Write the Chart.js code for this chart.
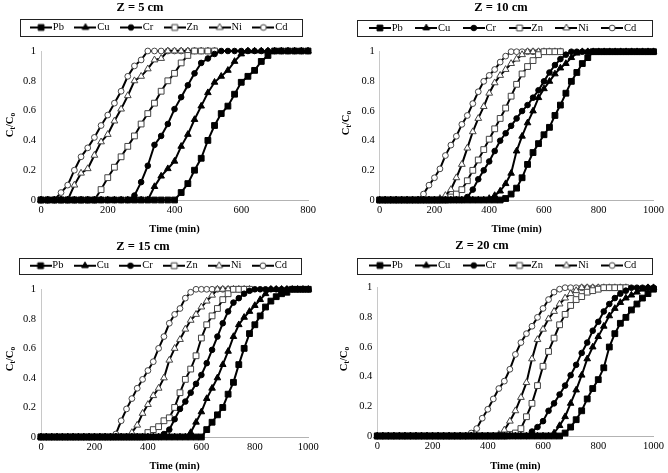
<!DOCTYPE html>
<html><head><meta charset="utf-8">
<script src="https://cdn.jsdelivr.net/npm/chart.js@4.4.1/dist/chart.umd.min.js"></script>
<style>html,body{margin:0;padding:0;background:#fff;width:668px;height:473px;overflow:hidden}canvas{position:absolute}</style>
</head><body>
<canvas id="c1" width="334" height="236" style="left:0;top:0;width:334px;height:236px"></canvas>
<canvas id="c2" width="334" height="236" style="left:334px;top:0;width:334px;height:236px"></canvas>
<canvas id="c3" width="334" height="237" style="left:0;top:236px;width:334px;height:237px"></canvas>
<canvas id="c4" width="334" height="237" style="left:334px;top:236px;width:334px;height:237px"></canvas>
<script>
// ---------- DATA ----------
const seriesNames = ['Pb','Cu','Cr','Zn','Ni','Cd'];
const panelTitles = ['Z = 5 cm','Z = 10 cm','Z = 15 cm','Z = 20 cm'];
const yTicks = [0,0.2,0.4,0.6,0.8,1];
const xTicks5 = [0,200,400,600,800];
const xTicksLong = [0,200,400,600,800,1000];
const tShort = [0,20,40,60,80,100,120,140,160,180,200,220,240,260,280,300,320,340,360,380,400,420,440,460,480,500,520,540,560,580,600,620,640,660,680,700,720,740,760,780,800];
const tLong = [0,20,40,60,80,100,120,140,160,180,200,220,240,260,280,300,320,340,360,380,400,420,440,460,480,500,520,540,560,580,600,620,640,660,680,700,720,740,760,780,800,820,840,860,880,900,920,940,960,980,1000];

// Z = 5 cm
const pb5 = [0,0,0,0,0,0,0,0,0,0, 0,0,0,0,0,0,0,0,0,0, 0, 0.05,0.11,0.2,0.28,0.4,0.5,0.58,0.63,0.71,0.79,0.83,0.87,0.93,0.97, 1,1,1,1,1,1];
const cu5 = [0,0,0,0,0,0,0,0,0,0, 0,0,0,0,0,0,0, 0.09,0.16,0.21,0.26,0.36,0.44,0.54,0.63,0.72,0.79,0.83,0.87,0.93,0.98, 1,1,1,1,1,1,1,1,1,1];
const cr5 = [0,0,0,0,0,0,0,0,0,0, 0,0,0,0, 0.03,0.12,0.23,0.37,0.43,0.51,0.61,0.69,0.77,0.85,0.92,0.95,0.98, 1,1,1,1,1,1,1,1,1,1, 1,1,1,1];
const zn5 = [0,0,0,0,0,0,0,0,0, 0.07,0.15,0.22,0.29,0.36,0.43,0.51,0.58,0.65,0.73,0.8,0.85,0.92,0.97, 1,1,1,1, null,null,null,null,null,null,null,null,null,null,null,null,null,null];
const ni5 = [0,0,0,0,0, 0.1,0.18,0.21,0.3,0.39,0.44,0.53,0.61,0.7,0.8,0.83,0.88,0.94,0.95, 1,1,1,1,1,1,1,1, null,null,null,null,null,null,null,null,null,null,null,null,null,null];
const cd5 = [0,0,0, 0.05,0.1,0.2,0.29,0.35,0.42,0.5,0.57,0.65,0.73,0.83,0.9,0.94, 1,1,1,1,1,1,1,1,1,1,1, null,null,null,null,null,null,null,null,null,null,null,null,null,null];

// Z = 10 cm
const pb10 = [0,0,0,0,0,0,0,0,0,0, 0,0,0,0,0,0,0,0,0,0, 0,0,0, 0.01,0.04,0.08,0.15,0.24,0.32,0.38,0.44,0.49,0.57,0.64,0.72,0.8,0.86,0.92,0.96, 1,1,1,1,1,1,1,1,1,1,1,1];
const cu10 = [0,0,0,0,0,0,0,0,0,0, 0,0,0,0,0,0,0,0,0,0, 0.01,0.03,0.06,0.11,0.18,0.33,0.43,0.52,0.6,0.69,0.75,0.8,0.85,0.89,0.92,0.96,0.99, 1,1,1,1,1,1,1,1,1,1,1,1,1,1];
const cr10 = [0,0,0,0,0,0,0,0,0,0, 0,0,0,0,0,0, 0.02,0.07,0.14,0.2,0.26,0.33,0.4,0.45,0.5,0.55,0.6,0.64,0.69,0.74,0.8,0.86,0.91,0.95,0.98, 1,1,1,1,1,1,1,1,1,1,1,1,1,1,1,1];
const zn10 = [0,0,0,0,0,0,0,0,0,0, 0,0,0, 0.02,0.04,0.07,0.13,0.2,0.27,0.34,0.41,0.48,0.55,0.62,0.7,0.78,0.85,0.9,0.94,0.98, 1,1,1,1, null,null,null,null,null,null,null,null,null,null,null,null,null,null,null,null,null];
const ni10 = [0,0,0,0,0,0,0,0,0,0, 0, 0.01,0.03,0.07,0.15,0.24,0.35,0.46,0.55,0.63,0.72,0.79,0.84,0.88,0.92,0.95,0.98, 1,1,1,1,1,1,1, null,null,null,null,null,null,null,null,null,null,null,null,null,null,null,null,null];
const cd10 = [0,0,0,0,0,0,0,0, 0.04,0.1,0.15,0.21,0.3,0.37,0.43,0.51,0.57,0.65,0.73,0.8,0.84,0.88,0.93,0.97, 1,1,1,1,1,1,1,1,1,1, null,null,null,null,null,null,null,null,null,null,null,null,null,null,null,null,null];

// Z = 15 cm
const pb15 = [0,0,0,0,0,0,0,0,0,0, 0,0,0,0,0,0,0,0,0,0, 0,0,0,0,0,0,0,0,0,0, 0, 0.05,0.1,0.15,0.2,0.29,0.37,0.49,0.6,0.7,0.76,0.82,0.88,0.92,0.95,0.97,0.98, 1,1,1,1];
const cu15 = [0,0,0,0,0,0,0,0,0,0, 0,0,0,0,0,0,0,0,0,0, 0,0,0,0,0,0,0,0, 0.03,0.1,0.17,0.26,0.33,0.4,0.49,0.58,0.68,0.76,0.81,0.85,0.89,0.93,0.97, 1,1,1,1,1,1,1,1];
const cr15 = [0,0,0,0,0,0,0,0,0,0, 0,0,0,0,0,0,0,0,0,0, 0,0,0, 0.02,0.05,0.12,0.19,0.24,0.3,0.36,0.42,0.5,0.59,0.68,0.77,0.85,0.91,0.94,0.97,0.99, 1,1,1,1,1,1,1,1,1,1,1];
const zn15 = [0,0,0,0,0,0,0,0,0,0, 0,0,0,0,0,0,0,0,0,0, 0.03,0.05,0.07,0.11,0.13,0.2,0.3,0.39,0.46,0.55,0.67,0.76,0.82,0.87,0.93,0.97, 1,1,1,1, null,null,null,null,null,null,null,null,null,null,null];
const ni15 = [0,0,0,0,0,0,0,0,0,0, 0,0,0,0,0,0,0, 0.03,0.08,0.16,0.22,0.28,0.33,0.4,0.52,0.6,0.66,0.73,0.79,0.83,0.88,0.92,0.96, 1,1,1,1,1,1,1, null,null,null,null,null,null,null,null,null,null,null];
const cd15 = [0,0,0,0,0,0,0,0,0,0, 0,0,0,0, 0.02,0.11,0.19,0.26,0.33,0.39,0.45,0.51,0.6,0.68,0.77,0.83,0.87,0.94,0.98, 1,1,1,1,1,1,1,1,1,1,1, null,null,null,null,null,null,null,null,null,null,null];

// Z = 20 cm
const pb20 = [0,0,0,0,0,0,0,0,0,0, 0,0,0,0,0,0,0,0,0,0, 0,0,0,0,0,0,0,0,0,0, 0,0,0,0, 0.02,0.06,0.11,0.17,0.25,0.32,0.38,0.46,0.6,0.69,0.76,0.8,0.85,0.89,0.93,0.96,0.99];
const cu20 = [0,0,0,0,0,0,0,0,0,0, 0,0,0,0,0,0,0,0,0,0, 0,0,0,0,0,0,0,0,0,0, 0,0, 0.02,0.07,0.13,0.22,0.31,0.41,0.52,0.6,0.67,0.74,0.81,0.86,0.9,0.93,0.95,0.97,0.99, 1,1];
const cr20 = [0,0,0,0,0,0,0,0,0,0, 0,0,0,0,0,0,0,0,0,0, 0,0,0,0,0,0,0,0, 0.03,0.06,0.1,0.17,0.22,0.28,0.34,0.41,0.48,0.56,0.63,0.71,0.77,0.84,0.89,0.93,0.96,0.98, 1,1,1,1,1];
const zn20 = [0,0,0,0,0,0,0,0,0,0, 0,0,0,0,0,0,0,0,0,0, 0,0,0,0, 0.01,0.02,0.05,0.13,0.22,0.34,0.47,0.57,0.66,0.75,0.82,0.88,0.92,0.94,0.97,0.98,0.99, 1,1,1,1,1, null,null,null,null,null];
const ni20 = [0,0,0,0,0,0,0,0,0,0, 0,0,0,0,0,0,0,0,0,0, 0,0, 0.01,0.04,0.1,0.17,0.26,0.36,0.52,0.65,0.72,0.79,0.84,0.89,0.93,0.96,0.98, 1,1,1,1,1,1,1,1,1, null,null,null,null,null];
const cd20 = [0,0,0,0,0,0,0,0,0,0, 0,0,0,0,0,0,0, 0.02,0.05,0.12,0.18,0.25,0.32,0.37,0.45,0.55,0.63,0.69,0.74,0.8,0.86,0.92,0.97,0.99, 1,1,1,1,1,1,1,1,1,1,1,1, null,null,null,null,null];

// ---------- STYLE / LAYOUT ----------
const SERIF = "'Liberation Serif','Times New Roman',serif";
const TITLE_SIZE = 12.5, LEG_FS = 10.5, TICK_FS = 10.5;
const markerStyles = [
  {ps:'rect', r:4.1, fill:'#000', edge:'#000'},
  {ps:'triangle', r:3.8, fill:'#000', edge:'#000'},
  {ps:'circle', r:2.8, fill:'#000', edge:'#000'},
  {ps:'rect', r:4.1, fill:'#fff', edge:'#444'},
  {ps:'triangle', r:3.9, fill:'#fff', edge:'#444'},
  {ps:'circle', r:2.9, fill:'#fff', edge:'#444'}
];

const panels = [
  {id:'c1', time:tShort, series:[pb5,cu5,cr5,zn5,ni5,cd5], xMax:800, xTicks:xTicks5,
   left:41, padR:26, padT:3, legPad:15, axisH:36, xtPad:0.2, titleXY:[140,7.5], legXY:[161,27.5], box:[20,19,282,17], yTitleXY:[9,125]},
  {id:'c2', time:tLong, series:[pb10,cu10,cr10,zn10,ni10,cd10], xMax:1000, xTicks:xTicksLong,
   left:45.7, padR:10.5, padT:1.7, legPad:17, axisH:36, xtPad:0.7, titleXY:[167,7.5], legXY:[170.8,28], box:[23.3,20,295,16], yTitleXY:[11,123]},
  {id:'c3', time:tLong, series:[pb15,cu15,cr15,zn15,ni15,cd15], xMax:1000, xTicks:xTicksLong,
   left:41, padR:25.7, padT:5.3, legPad:15, axisH:36, xtPad:0.7, titleXY:[143,10.5], legXY:[160.5,29.7], box:[19.3,21.7,282.4,16], yTitleXY:[9,123]},
  {id:'c4', time:tLong, series:[pb20,cu20,cr20,zn20,ni20,cd20], xMax:1000, xTicks:xTicksLong,
   left:43.3, padR:11.3, padT:1.7, legPad:17, axisH:37, xtPad:0.7, titleXY:[148,10], legXY:[170.8,29.5], box:[23.3,21.7,295,15.6], yTitleXY:[9,123]}
];

panels.forEach((p,pi)=>{ p.series.forEach((s,k)=>{ if (s.length!==p.time.length) throw new Error('len mismatch panel '+pi+' series '+seriesNames[k]+': '+s.length+' vs '+p.time.length); }); });

function drawMarker(g, st, x, y, r) {
  g.beginPath();
  if (st.ps === 'rect') { const s = r*Math.SQRT1_2; g.rect(x-s, y-s, 2*s, 2*s); }
  else if (st.ps === 'circle') { g.arc(x, y, r, 0, Math.PI*2); }
  else { const c = Math.cos(Math.PI/6)*r; g.moveTo(x, y-r); g.lineTo(x+c, y+r/2); g.lineTo(x-c, y+r/2); g.closePath(); }
  g.fillStyle = st.fill; g.fill();
  g.lineWidth = 1; g.strokeStyle = st.edge; g.stroke();
}
const legendImgs = markerStyles.map(st=>{
  const c = document.createElement('canvas'); c.width = 22; c.height = 12;
  const g = c.getContext('2d');
  g.strokeStyle = '#000'; g.lineWidth = 2;
  g.beginPath(); g.moveTo(0, 6); g.lineTo(22, 6); g.stroke();
  drawMarker(g, st, 11, 6, st.r);
  return c;
});

const placer = {
  id: 'placer',
  afterLayout(chart, args, o) {
    const t = chart.titleBlock;
    if (t) {
      const dx = o.titleXY[0] - (t.left + t.right)/2;
      const dy = o.titleXY[1] - (t.top + TITLE_SIZE/2);
      t.left += dx; t.right += dx; t.top += dy; t.bottom += dy;
    }
    const l = chart.legend;
    if (l) {
      const pad = l.options.labels.padding;
      const dx = o.legXY[0] - (l.left + l.right)/2;
      const dy = o.legXY[1] - (l.top + pad + LEG_FS/2);
      l.left += dx; l.right += dx; l.top += dy; l.bottom += dy;
    }
  },
  afterDraw(chart, args, o) {
    const ctx = chart.ctx;
    ctx.save();
    ctx.strokeStyle = '#222'; ctx.lineWidth = 1;
    ctx.strokeRect(Math.round(o.box[0])+0.5, Math.round(o.box[1])+0.5, Math.round(o.box[2]), Math.round(o.box[3]));
    // y axis title C_t / C_o
    ctx.translate(o.yTitleXY[0], o.yTitleXY[1]);
    ctx.rotate(-Math.PI/2);
    const parts = [['C',10.5,0],['t',7.5,2.5],['/C',10.5,0],['o',7.5,2.5]];
    let total = 0;
    parts.forEach(pt=>{ ctx.font = 'bold '+pt[1]+'px '+SERIF; pt.w = ctx.measureText(pt[0]).width; total += pt.w; });
    let cx = -total/2;
    ctx.fillStyle = '#000'; ctx.textBaseline = 'alphabetic'; ctx.textAlign = 'left';
    parts.forEach(pt=>{ ctx.font = 'bold '+pt[1]+'px '+SERIF; ctx.fillText(pt[0], cx, 3.6 + pt[2]); cx += pt.w; });
    ctx.restore();
  }
};

panels.forEach((p, pi)=>{
  new Chart(document.getElementById(p.id), {
    type: 'line',
    data: {
      datasets: seriesNames.map((name, k)=>({
        label: name,
        data: p.time.map((t, i)=>({x: t, y: p.series[k][i]})),
        borderColor: '#000', borderWidth: 2, tension: 0, fill: false,
        pointStyle: markerStyles[k].ps, pointRadius: markerStyles[k].r,
        pointBackgroundColor: markerStyles[k].fill, pointBorderColor: markerStyles[k].edge,
        pointBorderWidth: 1, clip: false, spanGaps: false
      }))
    },
    options: {
      responsive: false, animation: false, devicePixelRatio: 1,
      layout: {padding: {left: 0, right: p.padR, top: p.padT, bottom: 0}},
      plugins: {
        title: {display: true, text: panelTitles[pi], color: '#000', padding: 0,
                font: {family: SERIF, size: TITLE_SIZE, weight: 'bold', lineHeight: 1}},
        legend: {display: true, position: 'top',
          labels: {usePointStyle: true, pointStyleWidth: 13, padding: p.legPad, color: '#000',
            font: {family: SERIF, size: LEG_FS},
            generateLabels(chart) {
              const items = Chart.defaults.plugins.legend.labels.generateLabels(chart);
              items.forEach((it, i)=>{ it.pointStyle = legendImgs[i]; });
              return items;
            }}},
        tooltip: {enabled: false},
        placer: {titleXY: p.titleXY, legXY: p.legXY, box: p.box, yTitleXY: p.yTitleXY}
      },
      scales: {
        x: {type: 'linear', min: 0, max: p.xMax,
          grid: {display: false, drawTicks: false, tickLength: 0},
          border: {display: true, color: '#b3b3b3', width: 1},
          ticks: {color: '#000', font: {family: SERIF, size: TICK_FS}, padding: 4, maxRotation: 0, autoSkip: false, callback: v=>String(v)},
          afterBuildTicks: s=>{ s.ticks = p.xTicks.map(v=>({value: v})); },
          afterFit: s=>{ s.height = p.axisH; },
          title: {display: true, text: 'Time (min)', color: '#000', font: {family: SERIF, size: 10.5, weight: 'bold'}, padding: {top: 0, bottom: p.xtPad}}
        },
        y: {type: 'linear', min: 0, max: 1,
          grid: {display: false, drawTicks: false, tickLength: 0},
          border: {display: true, color: '#c8c8c8', width: 1},
          ticks: {color: '#000', font: {family: SERIF, size: TICK_FS}, padding: 5, autoSkip: false, callback: v=>String(v)},
          afterBuildTicks: s=>{ s.ticks = yTicks.map(v=>({value: v})); },
          afterFit: s=>{ s.width = p.left; }
        }
      }
    },
    plugins: [placer]
  });
});
</script>
</body></html>
